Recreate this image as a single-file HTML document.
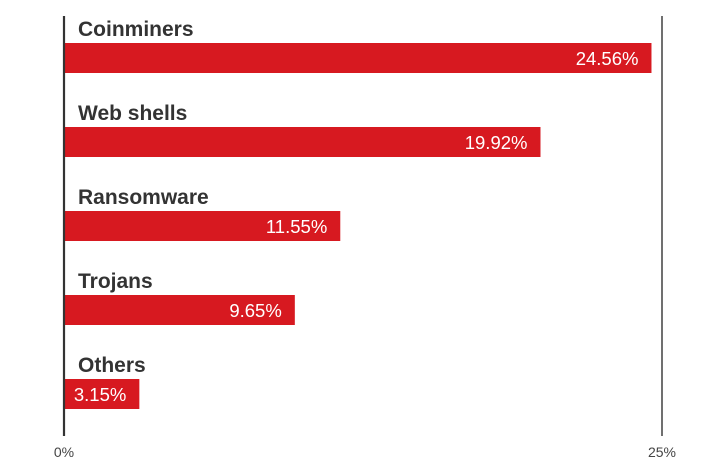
<!DOCTYPE html>
<html><head><meta charset="utf-8"><style>
body{margin:0;background:#fff;}
svg text{font-family:"Liberation Sans",sans-serif;}
</style></head><body>
<svg id="chart" width="728" height="470" xmlns="http://www.w3.org/2000/svg"></svg>
<script>
const categories = ["Coinminers","Web shells","Ransomware","Trojans","Others"];
const values = [24.56,19.92,11.55,9.65,3.15];
const valueLabels = ["24.56%","19.92%","11.55%","9.65%","3.15%"];
const tickValues = [0,25];
const tickLabels = ["0%","25%"];

const svg = document.getElementById('chart');
const NS = "http://www.w3.org/2000/svg";
const x0 = 64, x1 = 662, maxV = 25;
const xs = v => x0 + (v / maxV) * (x1 - x0);
const bandTop = 43, step = 84, barH = 30;
function mk(tag, attrs, text){
  const e = document.createElementNS(NS, tag);
  for (const k in attrs) e.setAttribute(k, attrs[k]);
  if (text !== undefined) e.textContent = text;
  svg.appendChild(e);
  return e;
}
tickValues.forEach((t, i) => {
  if (t > 0) {
    const g = mk('line', {x1: xs(t), x2: xs(t), y1: 16, y2: 436, stroke: '#333', 'stroke-width': 1.4});
    
    
  }
  const tl = mk('text', {x: xs(t), y: 457, 'text-anchor': 'middle', 'font-size': 14, fill: '#444'}, tickLabels[i]);
  
  
});
categories.forEach((c, i) => {
  const y = bandTop + i * step;
  const lab = mk('text', {x: 78, y: y - 7, 'font-size': 21, 'font-weight': 'bold', fill: '#333'}, c);
  
  
  const b = mk('rect', {x: x0, y: y, width: xs(values[i]) - x0, height: barH, fill: '#d71920'});
  
  
  const v = mk('text', {x: xs(values[i]) - 13, y: y + 22, 'text-anchor': 'end', 'font-size': 18.5, fill: '#fff'}, valueLabels[i]);
  
  
});
const ax = mk('line', {x1: x0, x2: x0, y1: 16, y2: 436, stroke: '#333', 'stroke-width': 2.2});


</script>
</body></html>
